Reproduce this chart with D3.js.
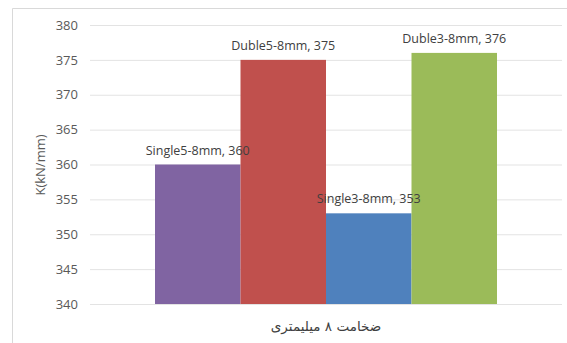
<!DOCTYPE html>
<html><head><meta charset="utf-8">
<script src="https://cdn.jsdelivr.net/npm/d3@7"></script>
<style>body{margin:0;background:#fff}svg{display:block}</style>
</head><body><svg id="c" width="567" height="343"></svg>
<script>
const series = ["Single5-8mm", "Duble5-8mm", "Single3-8mm", "Duble3-8mm"];
const values = [360, 375, 353, 376];
const colors = ["#8064A2", "#C0504D", "#4F81BD", "#9BBB59"];
const yTicks = [340, 345, 350, 355, 360, 365, 370, 375, 380];
const category = "ضخامت ۸ میلیمتری";
const yTitle = "K(kN/mm)";

const svg = d3.select("#c");
const font = "'Open Sans','DejaVu Sans',sans-serif";
svg.append("path").attr("d","M12.5,343 V8.5 H567").attr("fill","none").attr("stroke","#d9d9d9");

const y = d3.scaleLinear().domain([340,380]).range([304,25]);
const x = d3.scaleBand().domain(series).range([155,497]).padding(0);
const plotL = 90, plotR = 562;

const gy = svg.append("g").attr("transform",`translate(${plotL},0)`)
  .call(d3.axisLeft(y).tickValues(yTicks).tickSize(-(plotR-plotL)).tickPadding(12).tickFormat(d3.format("d")));
gy.select(".domain").remove();
gy.selectAll(".tick line").attr("stroke","#e3e3e3");
gy.selectAll(".tick text").attr("fill","#595959").style("font-family",font).style("font-size","13px");

svg.append("g").selectAll("rect").data(series).join("rect")
  .attr("x",d=>x(d)).attr("width",x.bandwidth())
  .attr("y",(d,i)=>y(values[i])).attr("height",(d,i)=>y(340)-y(values[i]))
  .attr("fill",(d,i)=>colors[i]);

svg.append("g").selectAll("text").data(series).join("text")
  .attr("x",(d,i)=>x(d)+x.bandwidth()/2)
  .attr("y",(d,i)=>y(values[i])-10)
  .attr("text-anchor","middle").attr("fill","#404040")
  .style("font-family",font).style("font-size","12.5px")
  .text((d,i)=>d+", "+values[i]);

svg.append("text").attr("transform","translate(45,165) rotate(-90)")
  .attr("text-anchor","middle").attr("fill","#595959")
  .style("font-family",font).style("font-size","13px").text(yTitle);

svg.append("text").attr("x",(x.range()[0]+x.range()[1])/2).attr("y",331)
  .attr("text-anchor","middle").attr("fill","#404040")
  .style("font-family","'DejaVu Sans',sans-serif").style("font-size","13.5px").text(category);
</script></body></html>
